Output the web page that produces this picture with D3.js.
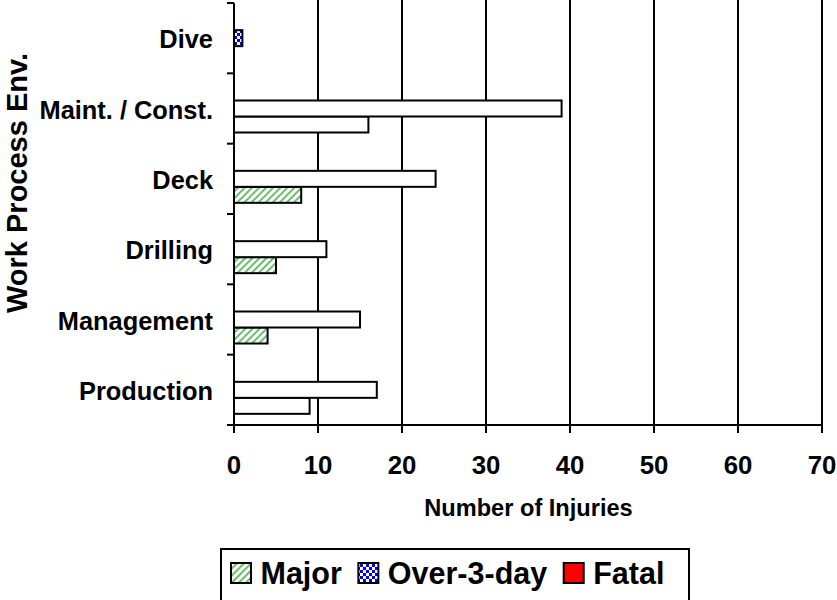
<!DOCTYPE html>
<html>
<head>
<meta charset="utf-8">
<script src="https://cdn.jsdelivr.net/npm/d3@7"></script>
<style>
  html, body { margin: 0; padding: 0; background: #fff; }
  svg { display: block; font-family: "Liberation Sans", Arial, sans-serif; font-weight: bold; }
</style>
</head>
<body>
<svg id="chart" width="837" height="600"></svg>
<script>
// ---- data ----
const categories = ["Dive", "Maint. / Const.", "Deck", "Drilling", "Management", "Production"];
const seriesNames = ["Major", "Over-3-day", "Fatal"];
const majorValues = [0, 16, 8, 5, 4, 9];
const over3dayValues = [1, 39, 24, 11, 15, 17];
const fatalValues = [0, 0, 0, 0, 0, 0];
const xTickValues = [0, 10, 20, 30, 40, 50, 60, 70];
const xTitle = "Number of Injuries";
const yTitle = "Work Process Env.";

// ---- styles (not data) ----
const fills = { "Major": "url(#hatch)", "Over-3-day": "url(#checker)", "Fatal": "#ff0000" };
// bars that were printed without their pattern in the reference
const plainBars = {
  "Major": ["Maint. / Const.", "Production"],
  "Over-3-day": ["Maint. / Const.", "Deck", "Drilling", "Management", "Production"],
  "Fatal": []
};

const valuesBySeries = { "Major": majorValues, "Over-3-day": over3dayValues, "Fatal": fatalValues };

const svg = d3.select("#chart");
const defs = svg.append("defs");

// diagonal hatch
const hatch = defs.append("pattern").attr("id", "hatch").attr("patternUnits", "userSpaceOnUse")
  .attr("width", 5).attr("height", 5).attr("patternTransform", "rotate(45)");
hatch.append("rect").attr("width", 5).attr("height", 5).attr("fill", "#fff");
hatch.append("rect").attr("x", 0).attr("y", 0).attr("width", 1.8).attr("height", 5).attr("fill", "#5cb85c");

// checker
const chk = defs.append("pattern").attr("id", "checker").attr("patternUnits", "userSpaceOnUse")
  .attr("width", 6).attr("height", 6);
chk.append("rect").attr("width", 6).attr("height", 6).attr("fill", "#fff");
chk.append("rect").attr("x", 0).attr("y", 0).attr("width", 3).attr("height", 3).attr("fill", "#0000ff");
chk.append("rect").attr("x", 3).attr("y", 3).attr("width", 3).attr("height", 3).attr("fill", "#0000ff");

const plot = { left: 234, right: 822, top: 3, bottom: 425 };

const x = d3.scaleLinear().domain([0, 70]).range([plot.left, plot.right]);
const y0 = d3.scaleBand().domain(categories).range([plot.top, plot.bottom]).padding(0);
const slotOrder = ["Fatal", "Over-3-day", "Major"]; // top to bottom within a category
const y1 = d3.scaleBand().domain(slotOrder).range([0, y0.bandwidth()]).paddingInner(0).paddingOuter(0.698);

// gridlines
svg.append("g").selectAll("line").data(xTickValues.filter(v => v > 0)).join("line")
  .attr("x1", d => x(d)).attr("x2", d => x(d))
  .attr("y1", plot.top - 3).attr("y2", plot.bottom)
  .attr("stroke", "#000").attr("stroke-width", 2);

// bars
const barData = [];
seriesNames.forEach(s => {
  categories.forEach((c, i) => {
    const v = valuesBySeries[s][i];
    if (v > 0) barData.push({ s, c, v });
  });
});
svg.append("g").selectAll("rect").data(barData).join("rect")
  .attr("x", x(0))
  .attr("y", d => y0(d.c) + y1(d.s))
  .attr("width", d => x(d.v) - x(0))
  .attr("height", y1.bandwidth())
  .attr("fill", d => plainBars[d.s].includes(d.c) ? "#fff" : fills[d.s])
  .attr("stroke", "#000").attr("stroke-width", 2);

// y axis
const yBoundaries = categories.map(c => y0(c)).concat([plot.bottom]);
const yAxisG = svg.append("g");
yAxisG.append("line").attr("x1", plot.left).attr("x2", plot.left)
  .attr("y1", plot.top).attr("y2", plot.bottom).attr("stroke", "#000").attr("stroke-width", 2);
yAxisG.selectAll("line.tick").data(yBoundaries).join("line").attr("class", "tick")
  .attr("x1", plot.left - 7).attr("x2", plot.left).attr("y1", d => d).attr("y2", d => d)
  .attr("stroke", "#000").attr("stroke-width", 2);
yAxisG.selectAll("text").data(categories).join("text")
  .attr("x", 213).attr("y", d => y0(d) + y0.bandwidth() / 2 + 10)
  .attr("text-anchor", "end").attr("font-size", 25.4).text(d => d);

// x axis
const xAxisG = svg.append("g");
xAxisG.append("line").attr("x1", plot.left - 7).attr("x2", plot.right)
  .attr("y1", plot.bottom).attr("y2", plot.bottom).attr("stroke", "#000").attr("stroke-width", 2);
xAxisG.selectAll("line.tick").data(xTickValues).join("line").attr("class", "tick")
  .attr("x1", d => x(d)).attr("x2", d => x(d)).attr("y1", plot.bottom).attr("y2", plot.bottom + 8)
  .attr("stroke", "#000").attr("stroke-width", 2);
xAxisG.selectAll("text").data(xTickValues).join("text")
  .attr("x", d => x(d)).attr("y", 474)
  .attr("text-anchor", "middle").attr("font-size", 25.8).text(d => d);

// titles
svg.append("text").attr("x", 528.5).attr("y", 516).attr("text-anchor", "middle")
  .attr("font-size", 23.6).text(xTitle);
svg.append("text").attr("transform", "translate(27,183) rotate(-90)").attr("text-anchor", "middle")
  .attr("font-size", 29).text(yTitle);

// legend
const leg = svg.append("g");
leg.append("rect").attr("x", 221).attr("y", 549).attr("width", 468).attr("height", 60)
  .attr("fill", "#fff").attr("stroke", "#000").attr("stroke-width", 2);
let lx = 231;
seriesNames.forEach(s => {
  leg.append("rect").attr("x", lx).attr("y", 563).attr("width", 20).attr("height", 20)
    .attr("fill", fills[s]).attr("stroke", "#000").attr("stroke-width", 2);
  const t = leg.append("text").attr("x", lx + 29.5).attr("y", 584).attr("font-size", 30.5).text(s);
  lx = lx + 29.5 + t.node().getComputedTextLength() + 16.5;
});
</script>
</body>
</html>
